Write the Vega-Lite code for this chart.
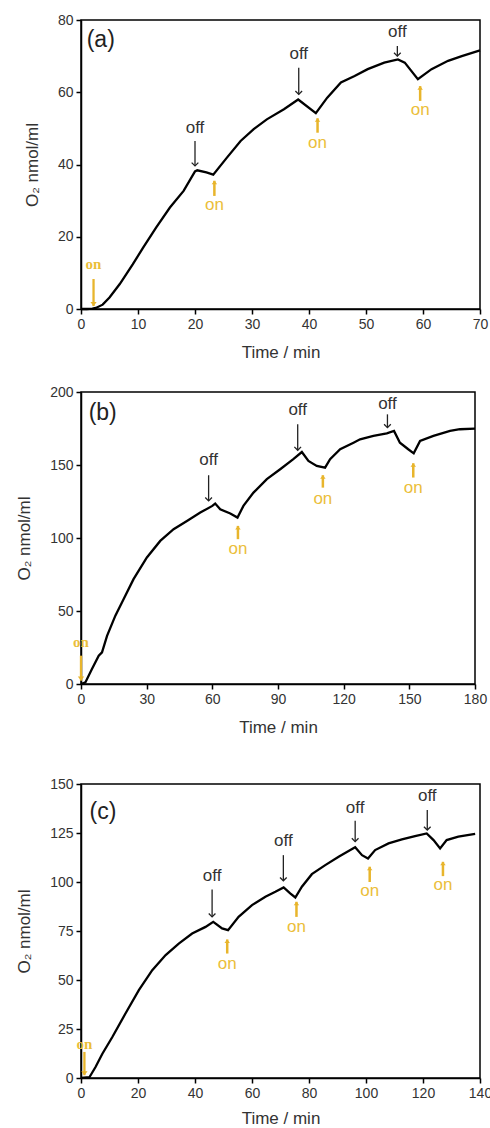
{
"$schema": "https://vega.github.io/schema/vega-lite/v6.json",
"background": "white",
"padding": {"left": 14, "top": 12, "right": 0, "bottom": 0},
"config": {
  "font": "Liberation Sans",
  "view": {"stroke": "black", "strokeWidth": 1.5},
  "axis": {"grid": false, "domainColor": "black", "domainWidth": 1.5, "tickColor": "black", "tickWidth": 1.5,
    "labelColor": "#333", "labelFontSize": 14, "labelPadding": 3, "labelFlush": false, "labelOverlap": false,
    "titleColor": "#333", "titleFontSize": 17, "titleFontWeight": "normal"},
  "axisX": {"titlePadding": 13},
  "axisY": {"titlePadding": 16}
},
"vconcat": [
 {"spacing": 23, "vconcat": [
  {"width": 399, "height": 289,
   "layer": [
    {"data": {"values": [{"t":0,"v":0},{"t":1,"v":0},{"t":2,"v":0.1},{"t":2.6,"v":0.3},{"t":3.8,"v":1.2},{"t":5,"v":3.2},{"t":6.8,"v":6.9},{"t":9.1,"v":12.4},{"t":10.9,"v":17},{"t":13.2,"v":22.6},{"t":15.6,"v":28.1},{"t":18,"v":32.7},{"t":20,"v":38.1},{"t":20.4,"v":38.4},{"t":22,"v":37.8},{"t":23.2,"v":37.2},{"t":25.6,"v":41.9},{"t":28,"v":46.5},{"t":30.3,"v":49.8},{"t":32.6,"v":52.5},{"t":35.6,"v":55.3},{"t":38.1,"v":58},{"t":41.2,"v":54.2},{"t":43.2,"v":58.5},{"t":45.6,"v":62.7},{"t":48,"v":64.5},{"t":50.3,"v":66.4},{"t":53.2,"v":68.2},{"t":55.6,"v":69.1},{"t":56.8,"v":68.2},{"t":59.1,"v":63.6},{"t":61.5,"v":66.4},{"t":64.4,"v":68.7},{"t":66.8,"v":70},{"t":70,"v":71.6}]},
     "mark": {"type": "line", "color": "black", "strokeWidth": 2.3},
     "encoding": {
      "x": {"field": "t", "type": "quantitative", "scale": {"domain": [0, 70], "nice": false},
        "axis": {"title": "Time / min", "values": [0,5,10,15,20,25,30,35,40,45,50,55,60,65,70], "labelExpr": "datum.value % 10 === 0 ? datum.label : ''", "tickSize": {"condition": {"test": "datum.value % 10 === 0", "value": 5}, "value": 3}}},
      "y": {"field": "v", "type": "quantitative", "scale": {"domain": [0, 80], "nice": false},
        "axis": {"title": "O₂ nmol/ml", "values": [0,10,20,30,40,50,60,70,80], "labelExpr": "datum.value % 20 === 0 ? datum.label : ''", "tickSize": {"condition": {"test": "datum.value % 20 === 0", "value": 5}, "value": 3}}}}},
    {"data": {"values": [{"t":20,"v":46.5,"v2":39.6,"ty":50.2},{"t":38.2,"v":66.8,"v2":59.4,"ty":70.5},{"t":55.5,"v":72.8,"v2":70,"ty":76.8}]},
     "layer": [
      {"mark": {"type": "rule", "color": "#222", "strokeWidth": 1.3}, "encoding": {"x": {"field": "t", "type": "quantitative"}, "y": {"field": "v", "type": "quantitative"}, "y2": {"field": "v2"}}},
      {"mark": {"type": "point", "shape": "M-1,-1L0,0L1,-1", "filled": false, "stroke": "#222", "strokeWidth": 1.3, "size": 45, "opacity": 1}, "encoding": {"x": {"field": "t", "type": "quantitative"}, "y": {"field": "v2", "type": "quantitative"}}},
      {"mark": {"type": "text", "text": "off", "fontSize": 17, "color": "#333", "baseline": "middle"}, "encoding": {"x": {"field": "t", "type": "quantitative"}, "y": {"field": "ty", "type": "quantitative"}}}
     ]},
    {"data": {"values": [{"t":23.4,"v":31.3,"v2":35.5,"ty":28.8},{"t":41.5,"v":48.8,"v2":52.8,"ty":46},{"t":59.5,"v":57.6,"v2":61.7,"ty":55}]},
     "layer": [
      {"mark": {"type": "rule", "color": "#E8B52C", "strokeWidth": 2.5}, "encoding": {"x": {"field": "t", "type": "quantitative"}, "y": {"field": "v", "type": "quantitative"}, "y2": {"field": "v2"}}},
      {"mark": {"type": "point", "shape": "M0,0L-1,1.3L1,1.3Z", "filled": true, "color": "#E8B52C", "size": 30, "opacity": 1}, "encoding": {"x": {"field": "t", "type": "quantitative"}, "y": {"field": "v2", "type": "quantitative"}}},
      {"mark": {"type": "text", "text": "on", "fontSize": 17, "color": "#EBBE3A", "baseline": "middle"}, "encoding": {"x": {"field": "t", "type": "quantitative"}, "y": {"field": "ty", "type": "quantitative"}}}
     ]},
    {"data": {"values": [{"t":2.2,"v":8.3,"v2":0.8,"ty":12.4}]},
     "layer": [
      {"mark": {"type": "rule", "color": "#E8B52C", "strokeWidth": 2.3}, "encoding": {"x": {"field": "t", "type": "quantitative"}, "y": {"field": "v", "type": "quantitative"}, "y2": {"field": "v2"}}},
      {"mark": {"type": "point", "shape": "M0,0L-1,-1.3L1,-1.3Z", "filled": true, "color": "#E8B52C", "size": 40, "opacity": 1}, "encoding": {"x": {"field": "t", "type": "quantitative"}, "y": {"field": "v2", "type": "quantitative"}}},
      {"mark": {"type": "text", "text": "on", "font": "Liberation Serif", "fontWeight": "bold", "fontSize": 15, "color": "#EBBE3A", "baseline": "middle"}, "encoding": {"x": {"field": "t", "type": "quantitative"}, "y": {"field": "ty", "type": "quantitative"}}}
     ]},
    {"data": {"values": [{"t":1.0,"v":74.4,"label":"(a)"}]},
     "mark": {"type": "text", "align": "left", "baseline": "middle", "fontSize": 23, "color": "#222"},
     "encoding": {"x": {"field": "t", "type": "quantitative"}, "y": {"field": "v", "type": "quantitative"}, "text": {"field": "label"}}}
   ]},
  {"width": 394, "height": 292,
   "layer": [
    {"data": {"values": [{"t":0,"v":0},{"t":2,"v":1.1},{"t":5,"v":10.3},{"t":8.1,"v":19.4},{"t":9.6,"v":21.7},{"t":11.9,"v":33},{"t":15.7,"v":46.8},{"t":19.5,"v":58.2},{"t":24,"v":71.8},{"t":30.1,"v":86.7},{"t":36.2,"v":98},{"t":42.3,"v":106},{"t":48.4,"v":111.7},{"t":54.5,"v":117.4},{"t":60,"v":122},{"t":61.3,"v":123.6},{"t":63.6,"v":119.7},{"t":68.2,"v":116.8},{"t":71.5,"v":114},{"t":74.2,"v":122},{"t":78.8,"v":131.1},{"t":84.9,"v":140.3},{"t":91,"v":147.1},{"t":97,"v":154},{"t":100.9,"v":158.9},{"t":103.9,"v":152.8},{"t":107.7,"v":149.4},{"t":111.5,"v":148.2},{"t":113.8,"v":154},{"t":118.4,"v":160.8},{"t":124.5,"v":165.3},{"t":127.5,"v":167.6},{"t":133.6,"v":169.9},{"t":139.7,"v":171.7},{"t":143,"v":173.3},{"t":145.7,"v":165.3},{"t":149.5,"v":160.8},{"t":152,"v":158},{"t":154.9,"v":166.5},{"t":161,"v":169.9},{"t":168.6,"v":173.3},{"t":173.1,"v":174.5},{"t":180,"v":174.9}]},
     "mark": {"type": "line", "color": "black", "strokeWidth": 2.3},
     "encoding": {
      "x": {"field": "t", "type": "quantitative", "scale": {"domain": [0, 180], "nice": false},
        "axis": {"title": "Time / min", "values": [0,15,30,45,60,75,90,105,120,135,150,165,180], "labelExpr": "datum.value % 30 === 0 ? datum.label : ''", "tickSize": {"condition": {"test": "datum.value % 30 === 0", "value": 5}, "value": 3}}},
      "y": {"field": "v", "type": "quantitative", "scale": {"domain": [0, 200], "nice": false},
        "axis": {"title": "O₂ nmol/ml", "values": [0,25,50,75,100,125,150,175,200], "labelExpr": "datum.value % 50 === 0 ? datum.label : ''", "tickSize": {"condition": {"test": "datum.value % 50 === 0", "value": 5}, "value": 3}}}}},
    {"data": {"values": [{"t":58.3,"v":143,"v2":125.4,"ty":153.5},{"t":99,"v":177.9,"v2":160.1,"ty":187.7},{"t":140,"v":184.7,"v2":175.6,"ty":192}]},
     "layer": [
      {"mark": {"type": "rule", "color": "#222", "strokeWidth": 1.3}, "encoding": {"x": {"field": "t", "type": "quantitative"}, "y": {"field": "v", "type": "quantitative"}, "y2": {"field": "v2"}}},
      {"mark": {"type": "point", "shape": "M-1,-1L0,0L1,-1", "filled": false, "stroke": "#222", "strokeWidth": 1.3, "size": 45, "opacity": 1}, "encoding": {"x": {"field": "t", "type": "quantitative"}, "y": {"field": "v2", "type": "quantitative"}}},
      {"mark": {"type": "text", "text": "off", "fontSize": 17, "color": "#333", "baseline": "middle"}, "encoding": {"x": {"field": "t", "type": "quantitative"}, "y": {"field": "ty", "type": "quantitative"}}}
     ]},
    {"data": {"values": [{"t":71.7,"v":99.2,"v2":108.3,"ty":92.4},{"t":110.5,"v":134.5,"v2":143,"ty":127},{"t":151.8,"v":141.4,"v2":151.2,"ty":134.5}]},
     "layer": [
      {"mark": {"type": "rule", "color": "#E8B52C", "strokeWidth": 2.5}, "encoding": {"x": {"field": "t", "type": "quantitative"}, "y": {"field": "v", "type": "quantitative"}, "y2": {"field": "v2"}}},
      {"mark": {"type": "point", "shape": "M0,0L-1,1.3L1,1.3Z", "filled": true, "color": "#E8B52C", "size": 30, "opacity": 1}, "encoding": {"x": {"field": "t", "type": "quantitative"}, "y": {"field": "v2", "type": "quantitative"}}},
      {"mark": {"type": "text", "text": "on", "fontSize": 17, "color": "#EBBE3A", "baseline": "middle"}, "encoding": {"x": {"field": "t", "type": "quantitative"}, "y": {"field": "ty", "type": "quantitative"}}}
     ]},
    {"data": {"values": [{"t":0,"v":19.4,"v2":2.3,"ty":28.5}]},
     "layer": [
      {"mark": {"type": "rule", "color": "#E8B52C", "strokeWidth": 2.3}, "encoding": {"x": {"field": "t", "type": "quantitative"}, "y": {"field": "v", "type": "quantitative"}, "y2": {"field": "v2"}}},
      {"mark": {"type": "point", "shape": "M0,0L-1,-1.3L1,-1.3Z", "filled": true, "color": "#E8B52C", "size": 40, "opacity": 1}, "encoding": {"x": {"field": "t", "type": "quantitative"}, "y": {"field": "v2", "type": "quantitative"}}},
      {"mark": {"type": "text", "text": "on", "font": "Liberation Serif", "fontWeight": "bold", "fontSize": 15, "color": "#EBBE3A", "baseline": "middle"}, "encoding": {"x": {"field": "t", "type": "quantitative"}, "y": {"field": "ty", "type": "quantitative"}}}
     ]},
    {"data": {"values": [{"t":3.5,"v":185.9,"label":"(b)"}]},
     "mark": {"type": "text", "align": "left", "baseline": "middle", "fontSize": 23, "color": "#222"},
     "encoding": {"x": {"field": "t", "type": "quantitative"}, "y": {"field": "v", "type": "quantitative"}, "text": {"field": "label"}}}
   ]}
 ]},
 {"width": 399, "height": 294,
   "layer": [
    {"data": {"values": [{"t":0,"v":0},{"t":3,"v":0.5},{"t":5.1,"v":5.6},{"t":7.5,"v":12.4},{"t":11,"v":20.9},{"t":15.6,"v":32.9},{"t":20.3,"v":44.8},{"t":25,"v":55},{"t":29.7,"v":62.7},{"t":34.3,"v":68.6},{"t":39,"v":73.7},{"t":43.7,"v":77.1},{"t":46.4,"v":79.7},{"t":49.5,"v":76.3},{"t":51.6,"v":75.4},{"t":55.3,"v":82.2},{"t":60,"v":88.2},{"t":64.7,"v":92.5},{"t":68.2,"v":95},{"t":71.1,"v":97.2},{"t":73.4,"v":94.2},{"t":75.2,"v":92.1},{"t":77.5,"v":97.6},{"t":81,"v":104},{"t":85.7,"v":108.6},{"t":90.4,"v":112.9},{"t":94.5,"v":116.3},{"t":96.2,"v":117.7},{"t":98.6,"v":113.7},{"t":100.7,"v":112},{"t":103.2,"v":116.3},{"t":107.9,"v":119.7},{"t":112.6,"v":121.7},{"t":117.2,"v":123.4},{"t":121.3,"v":124.8},{"t":123.7,"v":121.4},{"t":126,"v":117.1},{"t":128.3,"v":121.4},{"t":132.4,"v":123.1},{"t":138.3,"v":124.5}]},
     "mark": {"type": "line", "color": "black", "strokeWidth": 2.3},
     "encoding": {
      "x": {"field": "t", "type": "quantitative", "scale": {"domain": [0, 140], "nice": false},
        "axis": {"title": "Time / min", "titlePadding": 10, "values": [0,10,20,30,40,50,60,70,80,90,100,110,120,130,140], "labelExpr": "datum.value % 20 === 0 ? datum.label : ''", "tickSize": {"condition": {"test": "datum.value % 20 === 0", "value": 5}, "value": 3}}},
      "y": {"field": "v", "type": "quantitative", "scale": {"domain": [0, 150], "nice": false},
        "axis": {"title": "O₂ nmol/ml", "values": [0,12.5,25,37.5,50,62.5,75,87.5,100,112.5,125,137.5,150], "labelExpr": "datum.value % 25 === 0 ? datum.label : ''", "tickSize": {"condition": {"test": "datum.value % 25 === 0", "value": 5}, "value": 3}}}}},
    {"data": {"values": [{"t":46,"v":96.2,"v2":82.2,"ty":103},{"t":71,"v":113.7,"v2":100.6,"ty":121},{"t":96.2,"v":131.3,"v2":120.6,"ty":138},{"t":121.5,"v":136.7,"v2":126.5,"ty":143.9}]},
     "layer": [
      {"mark": {"type": "rule", "color": "#222", "strokeWidth": 1.3}, "encoding": {"x": {"field": "t", "type": "quantitative"}, "y": {"field": "v", "type": "quantitative"}, "y2": {"field": "v2"}}},
      {"mark": {"type": "point", "shape": "M-1,-1L0,0L1,-1", "filled": false, "stroke": "#222", "strokeWidth": 1.3, "size": 45, "opacity": 1}, "encoding": {"x": {"field": "t", "type": "quantitative"}, "y": {"field": "v2", "type": "quantitative"}}},
      {"mark": {"type": "text", "text": "off", "fontSize": 17, "color": "#333", "baseline": "middle"}, "encoding": {"x": {"field": "t", "type": "quantitative"}, "y": {"field": "ty", "type": "quantitative"}}}
     ]},
    {"data": {"values": [{"t":51.3,"v":63.5,"v2":70.7,"ty":58.4},{"t":75.6,"v":82.2,"v2":89.9,"ty":77.1},{"t":101.3,"v":100,"v2":107.8,"ty":95.5},{"t":127,"v":103,"v2":110.3,"ty":98.4}]},
     "layer": [
      {"mark": {"type": "rule", "color": "#E8B52C", "strokeWidth": 2.5}, "encoding": {"x": {"field": "t", "type": "quantitative"}, "y": {"field": "v", "type": "quantitative"}, "y2": {"field": "v2"}}},
      {"mark": {"type": "point", "shape": "M0,0L-1,1.3L1,1.3Z", "filled": true, "color": "#E8B52C", "size": 30, "opacity": 1}, "encoding": {"x": {"field": "t", "type": "quantitative"}, "y": {"field": "v2", "type": "quantitative"}}},
      {"mark": {"type": "text", "text": "on", "fontSize": 17, "color": "#EBBE3A", "baseline": "middle"}, "encoding": {"x": {"field": "t", "type": "quantitative"}, "y": {"field": "ty", "type": "quantitative"}}}
     ]},
    {"data": {"values": [{"t":1.2,"v":13.3,"v2":1.4,"ty":17.5}]},
     "layer": [
      {"mark": {"type": "rule", "color": "#E8B52C", "strokeWidth": 2.3}, "encoding": {"x": {"field": "t", "type": "quantitative"}, "y": {"field": "v", "type": "quantitative"}, "y2": {"field": "v2"}}},
      {"mark": {"type": "point", "shape": "M0,0L-1,-1.3L1,-1.3Z", "filled": true, "color": "#E8B52C", "size": 40, "opacity": 1}, "encoding": {"x": {"field": "t", "type": "quantitative"}, "y": {"field": "v2", "type": "quantitative"}}},
      {"mark": {"type": "text", "text": "on", "font": "Liberation Serif", "fontWeight": "bold", "fontSize": 15, "color": "#EBBE3A", "baseline": "middle"}, "encoding": {"x": {"field": "t", "type": "quantitative"}, "y": {"field": "ty", "type": "quantitative"}}}
     ]},
    {"data": {"values": [{"t":3.0,"v":135.9,"label":"(c)"}]},
     "mark": {"type": "text", "align": "left", "baseline": "middle", "fontSize": 23, "color": "#222"},
     "encoding": {"x": {"field": "t", "type": "quantitative"}, "y": {"field": "v", "type": "quantitative"}, "text": {"field": "label"}}}
   ]}
],
"spacing": 40
}
